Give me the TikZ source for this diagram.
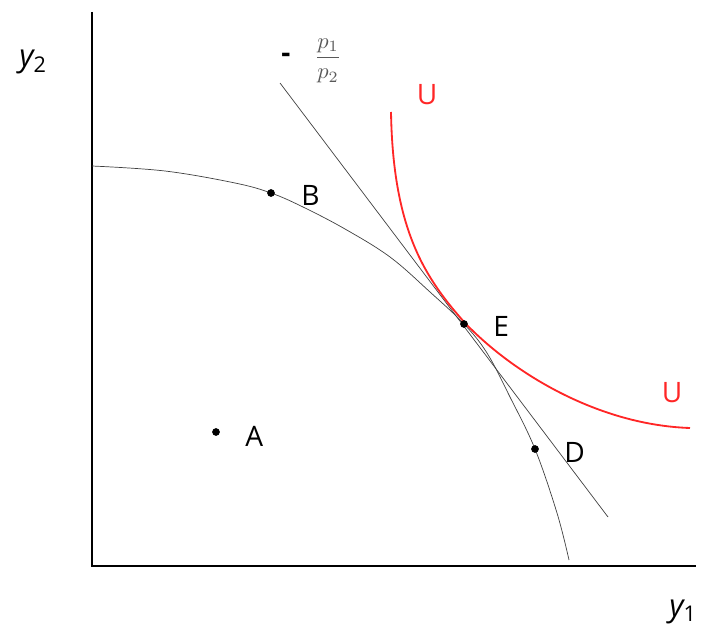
\documentclass[tikz,border=0pt]{standalone}
\usepackage{fontspec}
\setmainfont{Open Sans}
\tikzset{
  axis/.style={line width=1.6pt, draw=black},
  ppf/.style={line width=0.5pt, draw=black!75},
  budget/.style={line width=0.5pt, draw=black!75},
  indiff/.style={line width=1.3pt, draw=red!85!white},
  dot/.style={circle, fill=black, inner sep=0pt, minimum size=5.5pt},
  ptlabel/.style={font=\fontsize{20}{24}\selectfont, anchor=west, inner sep=0pt},
  ulabel/.style={font=\fontsize{20}{24}\selectfont, text=red!85!white, inner sep=0pt},
  axlabel/.style={font=\fontsize{22}{26}\selectfont\itshape, inner sep=0pt},
}
\begin{document}
\begin{tikzpicture}[x=0.025cm, y=-0.025cm]
\useasboundingbox (0,0) rectangle (704,630);
% axes
\draw[axis] (92,12) -- (92,566);
\draw[axis] (91,566) -- (696,566);
% production possibility frontier
\draw[ppf] plot[smooth, tension=0.6] coordinates {(92,166) (165,171) (235,183) (271,193)
  (303,207) (345,229) (390,257) (430,292) (464,324) (487,353) (510,397) (535,449)
  (557,513) (569,560)};
% price line
\draw[budget] (280,83) -- (608,517);
% indifference curve
\draw[indiff] (391,112) .. controls (393,230) and (425,278) .. (465,323)
  .. controls (515,375) and (600,425) .. (690,428);
% points
\node[dot] (B) at (271,193) {};
\node[dot] (E) at (464,324) {};
\node[dot] (D) at (535,449) {};
\node[dot] (A) at (216,432) {};
\node[ptlabel] (labB) at (301,195) {B};
\node[ptlabel] (labE) at (493,326) {E};
\node[ptlabel] (labD) at (564,452) {D};
\node[ptlabel] (labA) at (245,436) {A};
\node[ulabel] (labU1) at (427,95) {U};
\node[ulabel] (labU2) at (672,393) {U};
% slope label
\node[font=\fontsize{20}{24}\selectfont\bfseries, inner sep=0pt] (minus) at (286,58) {-};
\node[text=black!65, inner sep=0pt, scale=1.6] (slope) at (328,61) {$\displaystyle\frac{p_1}{p_2}$};
% axis labels
\node[axlabel] (ytwo) at (33,62) {y\textsubscript{\normalfont 2}};
\node[axlabel] (yone) at (683,612) {y\textsubscript{\normalfont 1}};
\end{tikzpicture}
\end{document}
